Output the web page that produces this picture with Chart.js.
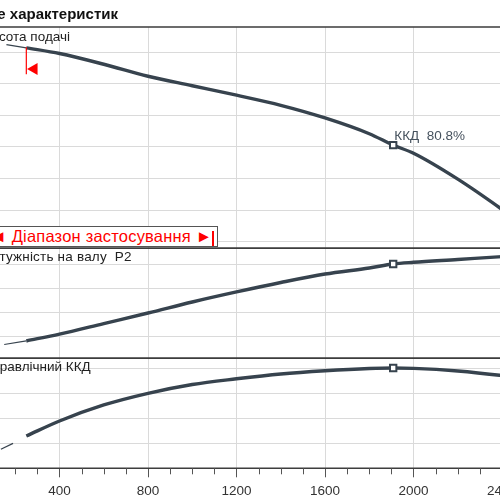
<!DOCTYPE html>
<html>
<head>
<meta charset="utf-8">
<script src="https://cdn.jsdelivr.net/npm/chart.js@4.4.0/dist/chart.umd.min.js"></script>
<style>
html, body { margin: 0; padding: 0; background: #fff; }
body { width: 500px; height: 500px; overflow: hidden; position: relative; font-family: 'Liberation Sans', Arial, sans-serif; }
canvas { position: absolute; left: -29px; z-index: 0; }
.lbl { position: absolute; white-space: pre; color: #222; font-size: 13.5px; line-height: 1; z-index: 2; }
#title { font-weight: bold; font-size: 15px; color: #111; top: 5.6px; right: 382px; }
#lblHead { top: 30.3px; right: 430px; }
#lblPower { top: 250.3px; right: 368.3px; letter-spacing: 0.2px; }
#lblEff { top: 360.3px; right: 409.3px; }
#lblBep { top: 129.3px; left: 394.3px; color: #46525e; }
#range { position: absolute; box-sizing: border-box; left: -40px; right: 281.7px; top: 225.7px; height: 21.5px;
         border: 1px solid #555; background: #fff; z-index: 3; }
#range span { position: absolute; right: 5px; top: 1px; font-size: 16.5px; letter-spacing: 0.2px; line-height: 1; color: #f00; white-space: pre; }
#range i { position: absolute; right: 3.6px; bottom: 0; width: 2px; height: 15px; background: #f00; }
</style>
</head>
<body>
<div class="lbl" id="title">Поле характеристик</div>
<div class="lbl" id="lblHead">Висота подачі</div>
<div class="lbl" id="lblPower">Потужність на валу  P2</div>
<div class="lbl" id="lblEff">Гідравлічний ККД</div>
<div class="lbl" id="lblBep"></div>
<div id="range"><span>◄ Діапазон застосування ►</span><i></i></div>

<canvas id="cHead" width="620" height="260" style="top:0px"></canvas>
<canvas id="cPower" width="620" height="140" style="top:230px"></canvas>
<canvas id="cEff" width="620" height="160" style="top:340px"></canvas>

<script>
// 讀圖得到的數據 (Q = m3/h)
const flowQ  = [250, 400, 600, 800, 1000, 1200, 1400, 1600, 1800, 1908, 2000, 2200, 2400, 2500];
const headH  = [40.7, 39.8, 38.1, 36.2, 34.7, 33.2, 31.6, 29.6, 27.1, 25.3, 24.0, 19.9, 15.1, 12.5];
const powerP = [96.4, 102.1, 110.8, 119.5, 128.6, 136.9, 144.7, 151.7, 156.7, 160.0, 161.4, 163.7, 166.1, 167.0];
const effEta = [26.0, 38.1, 51.0, 60.4, 67.5, 72.1, 76.0, 78.6, 80.4, 80.8, 80.5, 78.4, 74.7, 72.3];

// 細線 (範圍外)
const headTailQ = [160, 250];   const headTail = [41.2, 40.7];
const powerTailQ = [150, 250];  const powerTail = [93.5, 96.4];
const effTailQ = [135, 190];    const effTail = [15.3, 20.1];

// 最佳效率點
const bepQ = 1908, bepH = 25.3, bepP = 160.0, bepEta = 80.8;

// 使用範圍標記
const rangeMin = 250;
const rangeMarkH = [40.8, 36.5];
const rangeArrowQ = 285, rangeArrowH = 37.35;

// 格線 / 刻度
const flowTicks = [0, 400, 800, 1200, 1600, 2000, 2400, 2800];
const headGrid = [10, 15, 20, 25, 30, 35, 40];
const powerGrid = [100, 120, 140, 160];
const effGrid = [0, 20, 40, 60, 80];

const curveColor = '#37434e';
const gridColor = '#dadada';

document.getElementById('lblBep').textContent = `ККД  ${bepEta}%`;

const pts = (xs, ys) => xs.map((x, i) => ({ x: x, y: ys[i] }));

function xScale(showLabels) {
    return {
        type: 'linear', min: 0, max: 2802,
        afterBuildTicks: s => { s.ticks = flowTicks.map(v => ({ value: v })); },
        afterFit: s => {
            s.height = showLabels ? 31.7 : 0;
            s.paddingLeft = 0;
            s.paddingRight = 0;
        },
        grid: { color: gridColor, lineWidth: 1, drawTicks: showLabels, tickLength: 9, tickColor: '#555' },
        border: { display: false },
        ticks: {
            display: showLabels, color: '#333', padding: 6, maxRotation: 0, autoSkip: false,
            font: { family: 'Liberation Sans', size: 13.5 },
            callback: v => String(v)
        }
    };
}

function yScale(min, max, grid) {
    return {
        type: 'linear', min: min, max: max,
        afterBuildTicks: s => { s.ticks = grid.map(v => ({ value: v })); },
        afterFit: s => { s.width = 0; },
        grid: { color: gridColor, lineWidth: 1, drawTicks: false },
        border: { display: false },
        ticks: { display: false }
    };
}

// 面板上下邊框
const framePlugin = {
    id: 'frame',
    beforeDatasetsDraw(chart) {
        const { ctx, chartArea: a } = chart;
        ctx.save();
        ctx.strokeStyle = '#3d3d3d';
        ctx.lineWidth = 1.5;
        ctx.beginPath();
        ctx.moveTo(a.left, a.top); ctx.lineTo(a.right, a.top);
        ctx.moveTo(a.left, a.bottom); ctx.lineTo(a.right, a.bottom);
        ctx.stroke();
        ctx.restore();
    }
};

// 小刻度 (每 100)
const minorTicksPlugin = {
    id: 'minorTicks',
    afterDraw(chart) {
        const { ctx, chartArea: a } = chart;
        const sx = chart.scales.x;
        ctx.save();
        ctx.strokeStyle = '#555';
        ctx.lineWidth = 1;
        ctx.beginPath();
        for (let v = 100; v < sx.max; v += 100) {
            if (v % 400 === 0) continue;
            const px = Math.round(sx.getPixelForValue(v)) + 0.5;
            ctx.moveTo(px, a.bottom);
            ctx.lineTo(px, a.bottom + 6);
        }
        ctx.stroke();
        ctx.restore();
    }
};

function bepSet(y) {
    return {
        data: [{ x: bepQ, y: y }], showLine: false,
        pointStyle: 'rect', pointRadius: 4.5, pointBackgroundColor: '#fff',
        pointBorderColor: curveColor, pointBorderWidth: 2
    };
}
function mainSet(data) {
    return { data: data, borderColor: curveColor, borderWidth: 3.4, pointRadius: 0, cubicInterpolationMode: 'monotone' };
}
function tailSet(data) {
    return { data: data, borderColor: curveColor, borderWidth: 1.2, pointRadius: 0 };
}

function baseOptions(padTop, padBottom, x, y) {
    return {
        responsive: false, animation: false, events: [], devicePixelRatio: 1,
        layout: { autoPadding: false, padding: { top: padTop, bottom: padBottom, left: 0, right: 0 } },
        plugins: { legend: { display: false }, tooltip: { enabled: false } },
        scales: { x: x, y: y }
    };
}

// 揚程
new Chart(document.getElementById('cHead'), {
    type: 'line',
    data: {
        datasets: [
            bepSet(bepH),
            {
                data: [{ x: rangeArrowQ, y: rangeArrowH }], showLine: false,
                pointStyle: 'triangle', rotation: 270, pointRadius: 7,
                pointBackgroundColor: '#f00', pointBorderColor: '#f00', pointBorderWidth: 0
            },
            { data: pts([rangeMin, rangeMin], rangeMarkH), borderColor: '#f00', borderWidth: 1.2, pointRadius: 0 },
            mainSet(pts(flowQ, headH)),
            tailSet(pts(headTailQ, headTail))
        ]
    },
    options: baseOptions(27, 11.7, xScale(false), yScale(8.955, 44.0, headGrid)),
    plugins: [framePlugin]
});

// 軸功率
new Chart(document.getElementById('cPower'), {
    type: 'line',
    data: {
        datasets: [
            bepSet(bepP),
            mainSet(pts(flowQ, powerP)),
            tailSet(pts(powerTailQ, powerTail))
        ]
    },
    options: baseOptions(18.3, 11.7, xScale(false), yScale(82.07, 172.98, powerGrid)),
    plugins: [framePlugin]
});

// 效率
new Chart(document.getElementById('cEff'), {
    type: 'line',
    data: {
        datasets: [
            bepSet(bepEta),
            mainSet(pts(flowQ, effEta)),
            tailSet(pts(effTailQ, effTail))
        ]
    },
    options: baseOptions(18.3, 0, xScale(true), yScale(0, 88.6, effGrid)),
    plugins: [framePlugin, minorTicksPlugin]
});
</script>
</body>
</html>
